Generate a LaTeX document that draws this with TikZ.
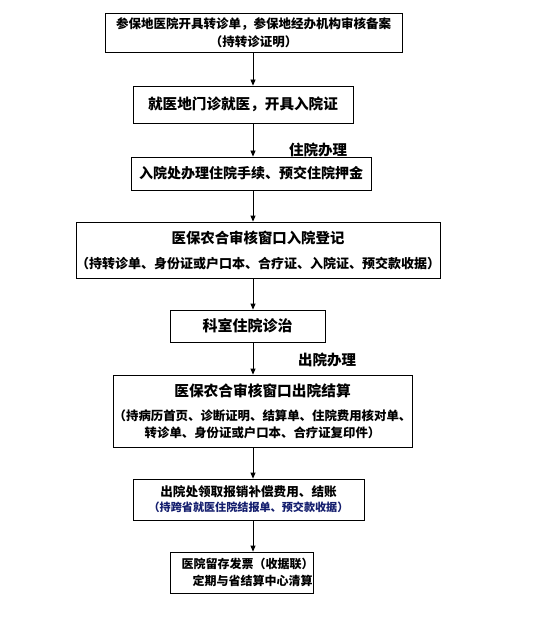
\documentclass[tikz,border=0pt]{standalone}
\usepackage{fontspec}
\newfontfamily\cjk{Noto Sans CJK SC}
\usetikzlibrary{arrows.meta}
\definecolor{notenavy}{RGB}{20,30,110}
\newcommand\cjksize[2]{\cjk\bfseries\fontsize{#1}{#2}\selectfont}
\newcommand\nudge[2]{\hspace*{#1}#2\hspace*{-#1}}
\begin{document}
\begin{tikzpicture}[x=1pt, y=-1pt,
        box/.style={draw, line width=0.8pt, inner sep=0pt, align=center},
        flow/.style={line width=0.8pt, -{Triangle[length=6pt, width=5pt]}},
        tag/.style={font=\cjksize{14.5}{16}}]
        \pgfmathsetmacro\spine{253};
        \useasboundingbox (0, 0) rectangle (548, 620);
        \coordinate (axis) at (\spine, 0);

        % referral
        \node[box, font=\cjksize{12.5}{18}, minimum width=297pt,
            minimum height=39pt] (zhuanzhen) at (253.5, 32.5)
            {参保地医院开具转诊单，参保地经办机构审核备案\\
             （持转诊证明）};
        \node[box, font=\cjksize{14.6}{18}, minimum width=220pt,
            minimum height=37pt] (menzhen) at (243, 104.5)
            {就医地门诊就医，开具入院证};

        % admission
        \node[tag] (ruyuanbl) at (318, 150) {住院办理};
        \node[box, font=\cjksize{14}{18}, minimum width=240pt,
            minimum height=33pt] (shouxu) at (251, 173.5)
            {入院处办理住院手续、预交住院押金};
        \node[box, font=\cjksize{14.4}{25}, minimum width=364pt,
            minimum height=56pt] (ruyuandj) at (258, 250)
            {医保农合审核窗口入院登记\\
             \fontsize{13}{25}\selectfont （持转诊单、身份证或户口本、合疗证、入院证、预交款收据）};
        \node[box, font=\cjksize{15}{18}, minimum width=155pt,
            minimum height=32pt] (zhenzhi) at (247.5, 326)
            {科室住院诊治};

        % discharge
        \node[tag] (chuyuanbl) at (327, 360) {出院办理};
        \node[box, font=\cjksize{14.7}{17}, minimum width=299pt,
            minimum height=72pt] (jiesuan) at (262.5, 411)
            {医保农合审核窗口出院结算\\[7pt]
             \fontsize{12.4}{17}\selectfont （持病历首页、诊断证明、结算单、住院费用核对单、\\
             \fontsize{12.4}{17}\selectfont 转诊单、身份证或户口本、合疗证复印件）};
        \node[box, font=\cjksize{12.6}{15}, minimum width=231pt,
            minimum height=41pt] (jiezhang) at (248.5, 499.5)
            {出院处领取报销补偿费用、结账\\
             \fontsize{11.1}{15}\selectfont \color{notenavy}（持跨省就医住院结报单、预交款收据）};
        \node[box, font=\cjksize{12}{17}, minimum width=143pt,
            minimum height=41pt] (qingsuan) at (241.5, 572.5)
            {\nudge{6pt}{医院留存发票（收据联）}\\
             \nudge{11pt}{定期与省结算中心清算}};

        % arrows down the spine
        \foreach \a/\b in {zhuanzhen/menzhen, menzhen/shouxu, shouxu/ruyuandj,
            ruyuandj/zhenzhi, zhenzhi/jiesuan, jiesuan/jiezhang,
            jiezhang/qingsuan}
            \draw[flow] (\a.south -| axis) -- (\b.north -| axis);
    \end{tikzpicture}
\end{document}
